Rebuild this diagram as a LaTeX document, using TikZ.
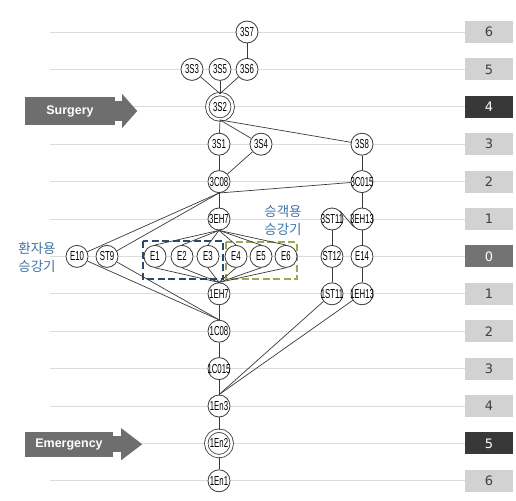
\documentclass[tikz,border=0pt]{standalone}
\usepackage{fontspec}
\setmainfont{Liberation Sans}
\newfontfamily\krfont{Noto Sans CJK KR}
\newfontfamily\digitfont{DejaVu Sans}
\usetikzlibrary{calc}
\definecolor{linec}{HTML}{3A3A3A}
\definecolor{rowc}{HTML}{DCDCDC}
\definecolor{boxl}{HTML}{D2D2D2}
\definecolor{boxd}{HTML}{383838}
\definecolor{boxm}{HTML}{737373}
\definecolor{arrowc}{HTML}{6E6E6E}
\definecolor{kblue}{HTML}{3F74A8}
\definecolor{dblue}{HTML}{2B4A6B}
\definecolor{oliveg}{HTML}{A3A552}
\newcommand{\nt}[1]{\makebox[0pt]{\scalebox{0.6}[1]{\fontsize{13}{13}\selectfont #1}}}
\tikzset{
 el/.style={circle, draw=linec, line width=0.8pt, fill=white, minimum size=22pt, inner sep=0pt},
 eldouble/.style={el, minimum size=25.5pt, double=white, double distance=2.6pt},
 conn/.style={draw=linec, line width=0.7pt},
 rowline/.style={draw=rowc, line width=0.8pt},
 lvl/.style={rectangle, minimum width=48pt, minimum height=22pt, inner sep=0pt, font=\digitfont\fontsize{13}{13}\selectfont},
 lvllight/.style={lvl, fill=boxl, text=black!75},
 lvldark/.style={lvl, fill=boxd, text=white},
 lvlmid/.style={lvl, fill=boxm, text=white},
 tagbox/.style={rectangle, fill=arrowc, text=white, font=\bfseries\fontsize{12.5}{13}\selectfont, inner sep=0pt},
 klabel/.style={font=\krfont\fontsize{13.5}{18}\selectfont, text=kblue, align=center},
 grpblue/.style={draw=dblue, line width=2.2pt, dash pattern=on 7pt off 3.5pt},
 grpolive/.style={draw=oliveg, line width=2pt, dash pattern=on 7pt off 3.5pt},
}
\begin{document}
\begin{tikzpicture}[x=1pt,y=-1pt]
\fill[white] (0,0) rectangle (516,500);
\path[use as bounding box] (0,0) rectangle (516,500);
% row lines
\foreach \i in {0,...,12} \draw[rowline] (50,{32+37.4*\i}) -- (465,{32+37.4*\i});
% level boxes
\node[lvllight] (r0) at (489,32) {6};
\node[lvllight] (r1) at (489,69.4) {5};
\node[lvldark] (r2) at (489,106.8) {4};
\node[lvllight] (r3) at (489,144.2) {3};
\node[lvllight] (r4) at (489,181.6) {2};
\node[lvllight] (r5) at (489,219) {1};
\node[lvlmid] (r6) at (489,256.4) {0};
\node[lvllight] (r7) at (489,293.8) {1};
\node[lvllight] (r8) at (489,331.2) {2};
\node[lvllight] (r9) at (489,368.6) {3};
\node[lvllight] (r10) at (489,406) {4};
\node[lvldark] (r11) at (489,443.4) {5};
\node[lvllight] (r12) at (489,480.8) {6};
% tags
\node[tagbox, minimum width=90pt, minimum height=28pt] (surg) at (70,111) {Surgery};
\fill[arrowc] ($(surg.east)+(0,-9.5)$) rectangle ($(surg.east)+(7,9.5)$);
\fill[arrowc] ($(surg.east)+(7,-17)$) -- ($(surg.east)+(22,0)$) -- ($(surg.east)+(7,17)$) -- cycle;
\node[tagbox, minimum width=88pt, minimum height=25pt] (emerg) at (69,444.2) {Emergency};
\fill[arrowc] ($(emerg.east)+(0,-8)$) rectangle ($(emerg.east)+(8,8)$);
\fill[arrowc] ($(emerg.east)+(8,-16)$) -- ($(emerg.east)+(29,0)$) -- ($(emerg.east)+(8,16)$) -- cycle;
% group boxes
\draw[grpblue] (143,241) rectangle (223,279);
\draw[grpolive] (226,242) rectangle (297,279);
% labels
\node[klabel] (lbA) at (283,220) {승객용\\승강기};
\node[klabel] (lbB) at (37,257) {환자용\\승강기};
% nodes
\node[el] (n3S7) at (247,32) {\nt{3S7}};
\node[el] (n3S3) at (192,69.4) {\nt{3S3}};
\node[el] (n3S5) at (220,69.4) {\nt{3S5}};
\node[el] (n3S6) at (247,69.4) {\nt{3S6}};
\node[eldouble] (n3S2) at (220,106.8) {\nt{3S2}};
\node[el] (n3S1) at (219,144.2) {\nt{3S1}};
\node[el] (n3S4) at (261,144.2) {\nt{3S4}};
\node[el] (n3S8) at (362,144.2) {\nt{3S8}};
\node[el] (n3C08) at (219,181.6) {\nt{3C08}};
\node[el] (n3C015) at (362,181.6) {\nt{3C015}};
\node[el] (n3EH7) at (219,219) {\nt{3EH7}};
\node[el] (n3ST11) at (332,219) {\nt{3ST11}};
\node[el] (n3EH13) at (362,219) {\nt{3EH13}};
\node[el] (nE10) at (77,256.4) {\nt{E10}};
\node[el] (nST9) at (107,256.4) {\nt{ST9}};
\node[el] (nE1) at (155,256.4) {\nt{E1}};
\node[el] (nE2) at (182,256.4) {\nt{E2}};
\node[el] (nE3) at (208,256.4) {\nt{E3}};
\node[el] (nE4) at (236,256.4) {\nt{E4}};
\node[el] (nE5) at (261,256.4) {\nt{E5}};
\node[el] (nE6) at (286,256.4) {\nt{E6}};
\node[el] (nST12) at (332,256.4) {\nt{ST12}};
\node[el] (nE14) at (362,256.4) {\nt{E14}};
\node[el] (n1EH7) at (219,293.8) {\nt{1EH7}};
\node[el] (n1ST11) at (332,293.8) {\nt{1ST11}};
\node[el] (n1EH13) at (362,293.8) {\nt{1EH13}};
\node[el] (n1C08) at (219,331.2) {\nt{1C08}};
\node[el] (n1C015) at (219,368.6) {\nt{1C015}};
\node[el] (n1En3) at (219,406) {\nt{1En3}};
\node[eldouble] (n1En2) at (219,443.4) {\nt{1En2}};
\node[el] (n1En1) at (219,480.8) {\nt{1En1}};
% connectors
\draw[conn] (n3S7) -- (n3S6);
\draw[conn] (n3S3) -- (n3S2.north);
\draw[conn] (n3S5) -- (n3S2.north);
\draw[conn] (n3S6) -- (n3S2.north);
\draw[conn] (n3S2.south) -- (n3S1);
\draw[conn] (n3S2.south) -- (n3S4);
\draw[conn] (n3S2.south) -- (n3S8);
\draw[conn] (n3S1) -- (n3C08);
\draw[conn] (n3S4) -- (n3C08);
\draw[conn] (n3S8) -- (n3C015);
\draw[conn] (n3C015) -- (n3C08.south);
\draw[conn] (n3C08) -- (n3EH7);
\draw[conn] (n3C015) -- (n3EH13);
\draw[conn] (n3C08.south) -- (nE10);
\draw[conn] (n3C08.south) -- (nST9);
\foreach \e in {nE1,nE2,nE3,nE4,nE5,nE6} {
  \draw[conn] (n3EH7.south) -- (\e.north);
  \draw[conn] (n1EH7.north) -- (\e.south);
}
\draw[conn] (n3ST11) -- (nST12);
\draw[conn] (nST12) -- (n1ST11);
\draw[conn] (n3EH13) -- (nE14);
\draw[conn] (nE14) -- (n1EH13);
\draw[conn] (n3ST11.north east) -- (n3EH13.south west);
\draw[conn] (nE10) -- (n1C08.north);
\draw[conn] (nST9) -- (n1C08.north);
\draw[conn] (n1EH7) -- (n1C08);
\draw[conn] (n1C08) -- (n1C015);
\draw[conn] (n1C015) -- (n1En3);
\draw[conn] (n1En3) -- (n1En2);
\draw[conn] (n1En2) -- (n1En1);
\draw[conn] (n1ST11) -- (n1En3.north);
\draw[conn] (n1EH13) -- (n1En3.north);
\end{tikzpicture}
\end{document}
